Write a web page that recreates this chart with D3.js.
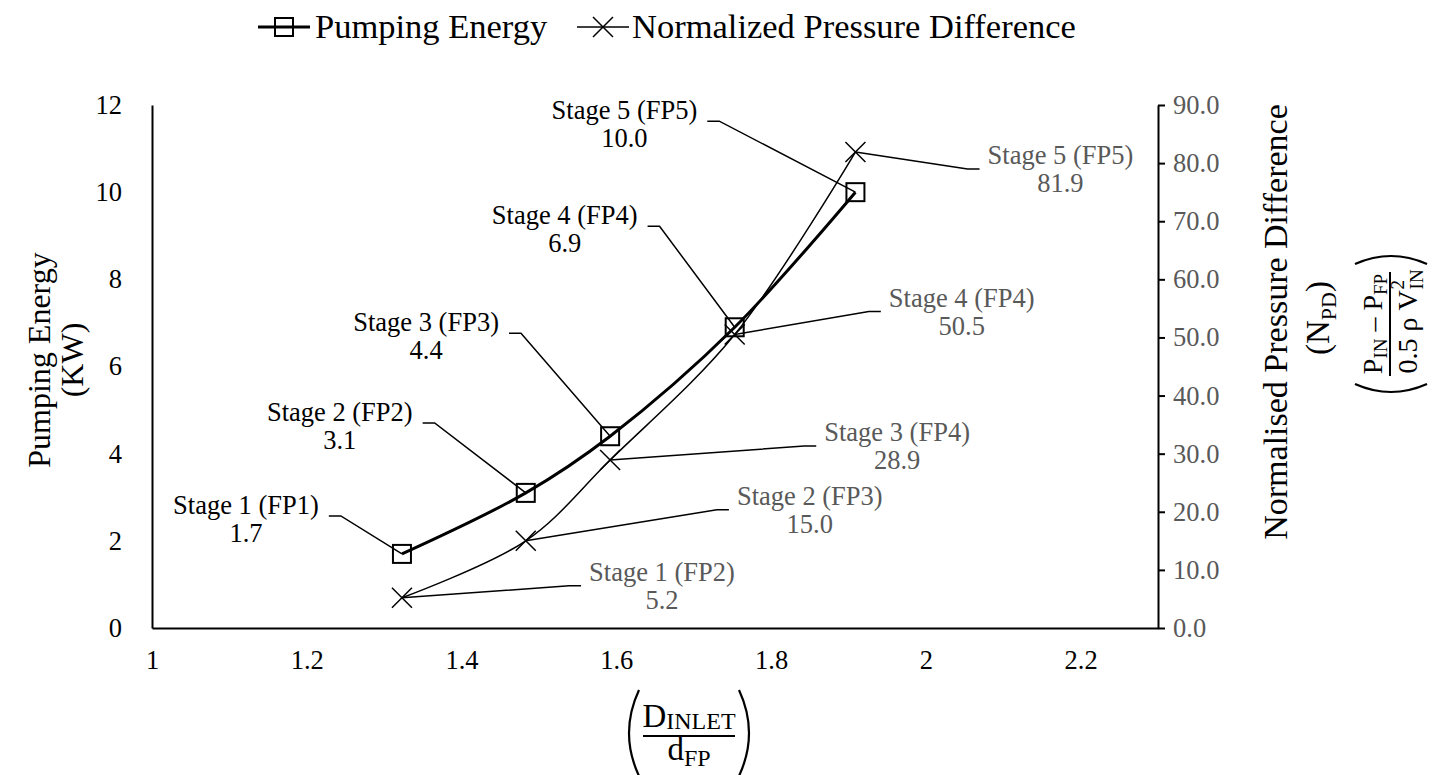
<!DOCTYPE html>
<html>
<head>
<meta charset="utf-8">
<script src="https://cdn.jsdelivr.net/npm/d3@7"></script>
<style>
  body { margin: 0; background: #fff; }
  svg text { font-family: "Liberation Serif", "Times New Roman", "DejaVu Serif", serif; }
</style>
</head>
<body>
<div id="chart"></div>
<script>
// values
const diameterRatio = [1.323, 1.483, 1.592, 1.753, 1.909];
const pumpingEnergy = [1.7, 3.1, 4.4, 6.9, 10.0];
const pressureDiff = [5.2, 15.0, 28.9, 50.5, 81.9];
const energyStages = ['Stage 1 (FP1)', 'Stage 2 (FP2)', 'Stage 3 (FP3)', 'Stage 4 (FP4)', 'Stage 5 (FP5)'];
const pressureStages = ['Stage 1 (FP2)', 'Stage 2 (FP3)', 'Stage 3 (FP4)', 'Stage 4 (FP4)', 'Stage 5 (FP5)'];
const xTicks = [1, 1.2, 1.4, 1.6, 1.8, 2, 2.2];
const leftTicks = [0, 2, 4, 6, 8, 10, 12];
const rightTicks = [0, 10, 20, 30, 40, 50, 60, 70, 80, 90];

// where the data labels sit, relative to their point (layout only)
const energyLabelOffset = [[-156, -48], [-186, -80], [-184, -113], [-170, -111], [-231, -81]];
const pressureLabelOffset = [[260, -25], [284, -44], [287, -27], [227, -36], [205, 4]];

const W = 1442, H = 775;
const plot = {left: 152, right: 1158, top: 105, bottom: 628};
const grey = '#595959';
const serif = '"Liberation Serif", "Times New Roman", serif';

const svg = d3.select('#chart').append('svg')
    .attr('width', W).attr('height', H)
    .attr('font-family', serif)
    .attr('xmlns', 'http://www.w3.org/2000/svg');

const x = d3.scaleLinear().domain([1, 2.3]).range([plot.left, plot.right]);
const yLeft = d3.scaleLinear().domain([0, 12]).range([plot.bottom, plot.top]);
const yRight = d3.scaleLinear().domain([0, 90]).range([plot.bottom, plot.top]);

// axes
const gx = svg.append('g')
    .attr('transform', 'translate(0,' + plot.bottom + ')')
    .call(d3.axisBottom(x).tickValues(xTicks).tickSize(0).tickSizeOuter(0).tickPadding(22)
        .tickFormat(d => String(d)));
const gl = svg.append('g')
    .attr('transform', 'translate(' + plot.left + ',0)')
    .call(d3.axisLeft(yLeft).tickValues(leftTicks).tickSize(0).tickSizeOuter(0).tickPadding(30)
        .tickFormat(d3.format('d')));
const gr = svg.append('g')
    .attr('transform', 'translate(' + plot.right + ',0)')
    .call(d3.axisRight(yRight).tickValues(rightTicks).tickSize(7).tickSizeOuter(0).tickPadding(8)
        .tickFormat(d3.format('.1f')));

[gx, gl, gr].forEach(g => {
    g.attr('font-family', serif);
    g.select('.domain').attr('stroke', '#000').attr('stroke-width', 2);
    g.selectAll('.tick line').attr('stroke', '#000').attr('stroke-width', 2);
    g.selectAll('.tick text').attr('font-size', 26.5).attr('fill', '#000');
});
gr.selectAll('.tick text').attr('fill', grey);

// series
const energyPts = diameterRatio.map((r, i) => [x(r), yLeft(pumpingEnergy[i])]);
const pressurePts = diameterRatio.map((r, i) => [x(r), yRight(pressureDiff[i])]);
const smooth = d3.line().curve(d3.curveCatmullRom.alpha(0.5));

svg.append('path').attr('d', smooth(pressurePts))
    .attr('fill', 'none').attr('stroke', '#000').attr('stroke-width', 1.5);
svg.append('path').attr('d', smooth(energyPts))
    .attr('fill', 'none').attr('stroke', '#000').attr('stroke-width', 3);

function square(g, cx, cy, s) {
    g.append('rect').attr('x', cx - s / 2).attr('y', cy - s / 2).attr('width', s).attr('height', s)
        .attr('fill', 'none').attr('stroke', '#000').attr('stroke-width', 2);
}
function cross(g, cx, cy, h) {
    g.append('path')
        .attr('d', 'M' + (cx - h) + ',' + (cy - h) + 'L' + (cx + h) + ',' + (cy + h) +
            'M' + (cx - h) + ',' + (cy + h) + 'L' + (cx + h) + ',' + (cy - h))
        .attr('stroke', '#000').attr('stroke-width', 1.5);
}
energyPts.forEach(p => square(svg, p[0], p[1], 18));
pressurePts.forEach(p => cross(svg, p[0], p[1], 10));

// data labels with leader lines
function dataLabel(pt, off, name, value, colour, side) {
    const cx = pt[0] + off[0], cy = pt[1] + off[1];
    const t = svg.append('text').attr('text-anchor', 'middle').attr('font-size', 26.5).attr('fill', colour);
    t.append('tspan').attr('x', cx).attr('y', cy + 8).text(name);
    t.append('tspan').attr('x', cx).attr('y', cy + 36).text(value.toFixed(1));
    const w = t.select('tspan').node().getComputedTextLength();
    let pathD;
    if (side === 'left') {
        const sx = cx + w / 2 + 10, sy = cy + 10;
        pathD = 'M' + sx + ',' + sy + 'L' + (sx + 12) + ',' + sy + 'L' + pt[0] + ',' + pt[1];
    } else {
        const ex = cx - w / 2 - 8, ey = cy + 13;
        pathD = 'M' + pt[0] + ',' + pt[1] + 'L' + (ex - 12) + ',' + ey + 'L' + ex + ',' + ey;
    }
    svg.append('path').attr('d', pathD).attr('fill', 'none')
        .attr('stroke', '#000').attr('stroke-width', 1.5);
}
energyPts.forEach((p, i) => dataLabel(p, energyLabelOffset[i], energyStages[i], pumpingEnergy[i], '#000', 'left'));
pressurePts.forEach((p, i) => dataLabel(p, pressureLabelOffset[i], pressureStages[i], pressureDiff[i], grey, 'right'));

// legend
const leg = svg.append('g');
leg.append('line').attr('x1', 258).attr('x2', 310).attr('y1', 27).attr('y2', 27)
    .attr('stroke', '#000').attr('stroke-width', 3);
square(leg, 284, 27, 18);
leg.append('text').attr('x', 315).attr('y', 38).attr('font-size', 34.5).text('Pumping Energy');
leg.append('line').attr('x1', 577).attr('x2', 629).attr('y1', 27).attr('y2', 27)
    .attr('stroke', '#000').attr('stroke-width', 1.5);
cross(leg, 603, 27, 10);
leg.append('text').attr('x', 632).attr('y', 38).attr('font-size', 34.5).text('Normalized Pressure Difference');

// left axis title
const lt = svg.append('g').attr('transform', 'translate(0,360) rotate(-90)');
lt.append('text').attr('x', 0).attr('y', 50).attr('text-anchor', 'middle').attr('font-size', 32).text('Pumping Energy');
lt.append('text').attr('x', 0).attr('y', 83).attr('text-anchor', 'middle').attr('font-size', 32).text('(KW)');

// right axis title
const rt = svg.append('g').attr('transform', 'translate(1287,322) rotate(-90)');
rt.append('text').attr('x', 0).attr('y', 0).attr('text-anchor', 'middle').attr('font-size', 34)
    .text('Normalised Pressure Difference');
const np = rt.append('text').attr('x', 4).attr('y', 42).attr('text-anchor', 'middle').attr('font-size', 33);
np.append('tspan').text('(N');
np.append('tspan').attr('font-size', 22).attr('dy', 7).text('PD');
np.append('tspan').attr('dy', -7).text(')');

const fx = -2;
rt.append('line').attr('x1', fx - 52).attr('x2', fx + 52).attr('y1', 103).attr('y2', 103)
    .attr('stroke', '#000').attr('stroke-width', 2);
const num = rt.append('text').attr('x', fx).attr('y', 95).attr('text-anchor', 'middle').attr('font-size', 28);
num.append('tspan').text('P');
num.append('tspan').attr('font-size', 19).attr('dy', 5).text('IN');
num.append('tspan').attr('dy', -5).text(' \u2013 P');
num.append('tspan').attr('font-size', 19).attr('dy', 5).text('FP');
const den = rt.append('text').attr('x', fx - 8).attr('y', 130).attr('text-anchor', 'middle').attr('font-size', 28);
den.append('tspan').text('0.5 \u03c1 V');
const denW = den.node().getComputedTextLength();
rt.append('text').attr('x', fx - 8 + denW / 2 + 1).attr('y', 117).attr('font-size', 19).text('2');
rt.append('text').attr('x', fx - 8 + denW / 2 + 1).attr('y', 136).attr('font-size', 19).text('IN');
rt.append('path').attr('d', 'M' + (fx - 60) + ',68 Q' + (fx - 76) + ',104 ' + (fx - 60) + ',140')
    .attr('fill', 'none').attr('stroke', '#000').attr('stroke-width', 2.2);
rt.append('path').attr('d', 'M' + (fx + 60) + ',68 Q' + (fx + 76) + ',104 ' + (fx + 60) + ',140')
    .attr('fill', 'none').attr('stroke', '#000').attr('stroke-width', 2.2);

// x axis title
const xt = svg.append('g').attr('transform', 'translate(689,0)');
const dn = xt.append('text').attr('x', 0).attr('y', 727).attr('text-anchor', 'middle').attr('font-size', 33);
dn.append('tspan').text('D');
dn.append('tspan').attr('font-size', 24).attr('dy', 2).text('INLET');
xt.append('line').attr('x1', -46).attr('x2', 46).attr('y1', 736).attr('y2', 736)
    .attr('stroke', '#000').attr('stroke-width', 2);
const dd = xt.append('text').attr('x', 0).attr('y', 760).attr('text-anchor', 'middle').attr('font-size', 33);
dd.append('tspan').text('d');
dd.append('tspan').attr('font-size', 24).attr('dy', 6).text('FP');
xt.append('path').attr('d', 'M-50,690 Q-70,733 -50,776').attr('fill', 'none').attr('stroke', '#000').attr('stroke-width', 2.2);
xt.append('path').attr('d', 'M50,690 Q70,733 50,776').attr('fill', 'none').attr('stroke', '#000').attr('stroke-width', 2.2);
</script>
</body>
</html>
